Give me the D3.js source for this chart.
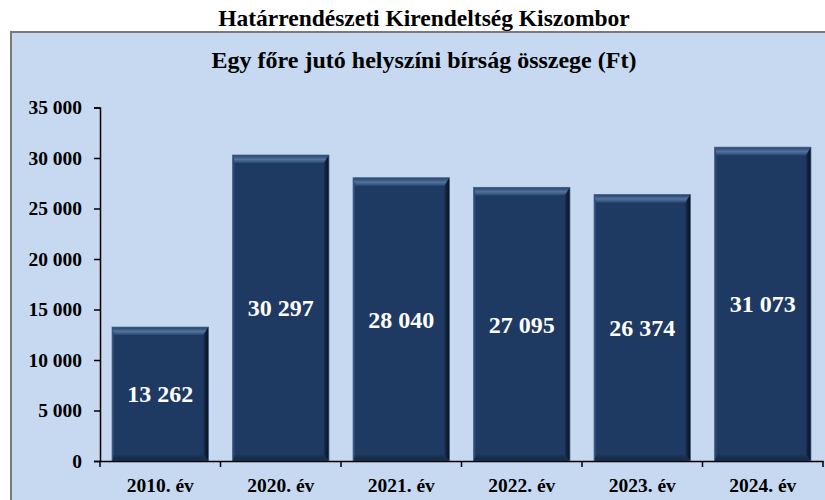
<!DOCTYPE html>
<html>
<head>
<meta charset="utf-8">
<style>
  body { margin: 0; background: #fff; }
  svg text { font-family: "Liberation Serif", "Times New Roman", serif; font-weight: bold; }
</style>
</head>
<body>
<div id="chart"></div>
<script src="https://cdn.jsdelivr.net/npm/d3@7"></script>
<script>
var years = ['2010. év', '2020. év', '2021. év', '2022. év', '2023. év', '2024. év'];
var fines = [13262, 30297, 28040, 27095, 26374, 31073];
var yTicks = [0, 5000, 10000, 15000, 20000, 25000, 30000, 35000];

var W = 825, H = 500;
var svg = d3.select('#chart').append('svg').attr('width', W).attr('height', H);

// outer title
svg.append('text').attr('x', 424).attr('y', 26).attr('text-anchor', 'middle')
  .style('font-size', '23.5px').text('Határrendészeti Kirendeltség Kiszombor');

// panel
svg.append('rect').attr('x', 11).attr('y', 32).attr('width', 840).attr('height', 490)
  .attr('fill', '#c6d9f0').attr('stroke', '#7a7a7a').attr('stroke-width', 2);

svg.append('text').attr('x', 424).attr('y', 68).attr('text-anchor', 'middle')
  .style('font-size', '24px').text('Egy főre jutó helyszíni bírság összege (Ft)');

var x = d3.scaleBand().domain(years).range([100, 823]).paddingInner(0.2).paddingOuter(0.1);
var y = d3.scaleLinear().domain([0, 35000]).range([461, 107.5]);

var fmt = function (v) { return d3.format(',')(v).replace(/,/g, ' '); };

var defs = svg.append('defs');
var tg = defs.append('linearGradient').attr('id', 'topGrad').attr('x1', 0).attr('y1', 0).attr('x2', 0).attr('y2', 1);
tg.append('stop').attr('offset', '0%').attr('stop-color', '#23406a');
tg.append('stop').attr('offset', '55%').attr('stop-color', '#52739c');
tg.append('stop').attr('offset', '100%').attr('stop-color', '#2a4874');
var rg = defs.append('linearGradient').attr('id', 'rightGrad').attr('x1', 0).attr('y1', 0).attr('x2', 1).attr('y2', 0);
rg.append('stop').attr('offset', '0%').attr('stop-color', '#18304f');
rg.append('stop').attr('offset', '100%').attr('stop-color', '#060f1c');
var bg = defs.append('linearGradient').attr('id', 'botGrad').attr('x1', 0).attr('y1', 0).attr('x2', 0).attr('y2', 1);
bg.append('stop').attr('offset', '0%').attr('stop-color', '#1c3558');
bg.append('stop').attr('offset', '100%').attr('stop-color', '#122640');

// bars with a simple bevel
var bars = svg.append('g').selectAll('g').data(years).enter().append('g');
bars.each(function (d, i) {
  var g = d3.select(this);
  var x0 = x(d), w = x.bandwidth(), y0 = y(fines[i]), y1 = y(0);
  var t = 8, r = 5, b = 6, l = 2;
  g.append('rect').attr('x', x0).attr('y', y0).attr('width', w).attr('height', y1 - y0)
    .attr('fill', '#1f3a62');
  // top bevel
  g.append('polygon').attr('points', [[x0, y0], [x0 + w, y0], [x0 + w - r, y0 + t], [x0 + l, y0 + t]].join(' '))
    .attr('fill', 'url(#topGrad)');
  // right bevel
  g.append('polygon').attr('points', [[x0 + w, y0], [x0 + w, y1], [x0 + w - r, y1 - b], [x0 + w - r, y0 + t]].join(' '))
    .attr('fill', 'url(#rightGrad)');
  // bottom bevel
  g.append('polygon').attr('points', [[x0, y1], [x0 + w, y1], [x0 + w - r, y1 - b], [x0 + l, y1 - b]].join(' '))
    .attr('fill', 'url(#botGrad)');
  // left edge
  g.append('polygon').attr('points', [[x0, y0], [x0 + l, y0 + t], [x0 + l, y1 - b], [x0, y1]].join(' '))
    .attr('fill', '#2c4a76');
  g.append('rect').attr('x', x0).attr('y', y0).attr('width', w).attr('height', y1 - y0)
    .attr('fill', 'none').attr('stroke', '#4d6a92').attr('stroke-width', 0.8);
  g.append('text').attr('x', x0 + w / 2).attr('y', (y0 + y1) / 2).attr('dy', '0.35em')
    .attr('text-anchor', 'middle').attr('fill', '#fff').style('font-size', '24px')
    .text(fmt(fines[i]));
});

// axes
var yAxis = svg.append('g').attr('transform', 'translate(100,0)')
  .call(d3.axisLeft(y).tickValues(yTicks).tickSize(6).tickSizeOuter(6).tickFormat(fmt).tickPadding(12));
var xAxis = svg.append('g').attr('transform', 'translate(0,461)')
  .call(d3.axisBottom(x).tickSize(0).tickPadding(17));
[yAxis, xAxis].forEach(function (a) {
  a.selectAll('path, line').attr('stroke', '#000').attr('stroke-width', 1.5);
  a.selectAll('text').attr('fill', '#000').style('font-size', '19.5px')
    .style('font-family', '"Liberation Serif", "Times New Roman", serif');
});
// category boundary ticks
svg.append('g').selectAll('line').data(d3.range(years.length + 1)).enter().append('line')
  .attr('x1', function (i) { return 100 + i * x.step(); })
  .attr('x2', function (i) { return 100 + i * x.step(); })
  .attr('y1', 461).attr('y2', 467).attr('stroke', '#000').attr('stroke-width', 1.5);
</script>
</body>
</html>
